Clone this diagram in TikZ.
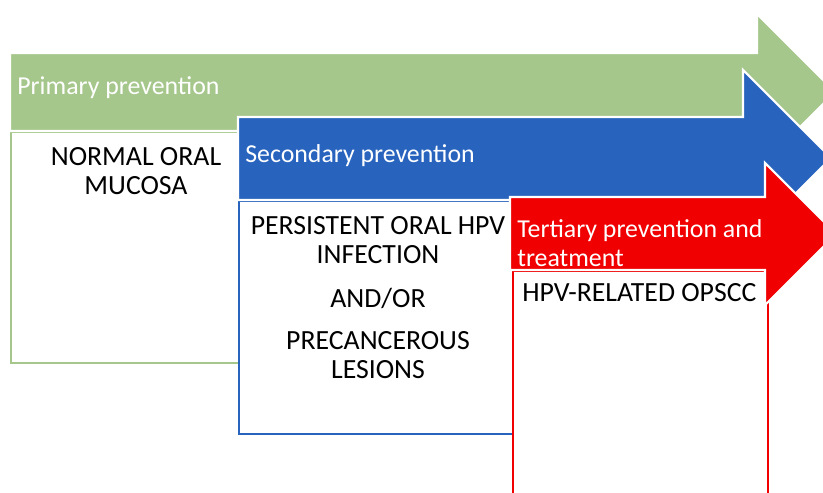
\documentclass[tikz,border=0pt]{standalone}
\usepackage{fontspec}
\setmainfont{Carlito}
\definecolor{primgreen}{RGB}{165,199,140}
\definecolor{secblue}{RGB}{40,100,190}
\definecolor{tertred}{RGB}{240,0,0}

\begin{document}
\begin{tikzpicture}
                \tikzset{ArrowStyle/.style={draw=white, line width=1.2pt, line join=miter}}
                \tikzset{BoxStyle/.style={draw, fill=white, line width=1.1pt, anchor=north west, inner sep=0pt}}
                \tikzset{HeadText/.style={text=white, anchor=west, align=left, inner sep=0pt, font=\fontsize{14.7}{16.2}\selectfont}}
                \tikzset{BodyText/.style={text=black, align=center, inner sep=0pt, font=\fontsize{15.8}{16.8}\selectfont}}

                \useasboundingbox (0,0) rectangle (16.46,9.84);
                \clip (0,0) rectangle (16.46,9.84);

                
                \node[BoxStyle, draw=primgreen, minimum width=4.7cm, minimum height=4.62cm] (prim-box) at (0.2,7.22) {};
                \fill[ArrowStyle, fill=primgreen] (0.2,8.78) -- (15.14,8.78) -- (15.14,9.56) -- (16.70,8.0)
                      -- (15.14,6.44) -- (15.14,7.22) -- (0.2,7.22) -- cycle;

          
                \node[BoxStyle, draw=secblue, minimum width=5.54cm, minimum height=4.66cm] (sec-box) at (4.76,5.84) {};
                \fill[ArrowStyle, fill=secblue] (4.76,7.5) -- (14.86,7.5) -- (14.86,8.44) -- (16.62,6.68)
                      -- (14.86,4.92) -- (14.86,5.84) -- (4.76,5.84) -- cycle;

          
                \node[BoxStyle, draw=tertred, minimum width=5.1cm, minimum height=4.94cm] (tert-box) at (10.24,4.44) {};
                \fill[ArrowStyle, fill=tertred] (10.2,5.9) -- (15.3,5.9) -- (15.3,6.58) -- (16.72,5.16)
                      -- (15.3,3.74) -- (15.3,4.44) -- (10.2,4.44) -- cycle;

          
                \node[HeadText] (prim-lbl) at (0.34,8.08) {Primary prevention};
                \node[HeadText] (sec-lbl) at (4.9,6.72) {Secondary prevention};
                \node[HeadText] (tert-lbl) at (10.34,4.98) {Tertiary prevention and\\treatment};

          
                \node[BodyText] (normal-mucosa) at (2.72,6.42) {NORMAL ORAL\\MUCOSA};
                \node[BodyText] (hpv-infection) at (7.56,5.04) {PERSISTENT ORAL HPV\\INFECTION};
                \node[BodyText] (and-or) at (7.56,3.88) {AND/OR};
                \node[BodyText] (precancer) at (7.56,2.74) {PRECANCEROUS\\LESIONS};
                \node[BodyText, anchor=west] (opscc) at (10.44,3.98) {HPV-RELATED OPSCC};

\end{tikzpicture}
\end{document}
